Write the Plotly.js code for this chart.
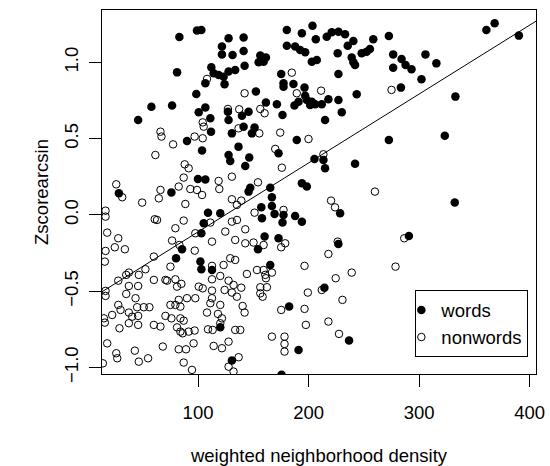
<!DOCTYPE html>
<html><head><meta charset="utf-8">
<script src="https://cdn.plot.ly/plotly-3.0.1.min.js"></script>
<style>html,body{margin:0;padding:0;background:#fff}</style>
</head><body>
<div id="chart" style="width:550px;height:466px"></div>
<script>
// words (filled points)
const wordsX = [83.1,99.0,103.0,127.6,121.6,121.6,131.2,81.0,112.0,114.1,118.6,123.1,127.6,133.6,106.6,124.0,98.4,57.8,76.5,45.8,106.6,100.6,111.1,111.7,127.0,127.6,130.6,90.0,103.6,136.6,127.6,129.1,99.9,106.6,75.9,28.4,
141.2,141.2,142.1,156.3,161.4,154.8,159.3,180.3,193.9,203.5,206.5,180.3,187.8,192.4,196.9,216.4,220.9,227.0,233.0,240.5,235.4,258.5,248.0,252.5,255.5,226.3,239.0,240.5,242.0,202.9,207.4,227.0,175.2,177.3,177.3,186.3,196.3,196.9,198.4,202.9,201.4,205.9,211.9,187.2,190.9,217.9,227.0,243.5,230.0,214.9,152.3,161.4,171.3,145.7,139.7,176.4,141.2,151.1,148.7,189.3,172.8,146.3,142.7,205.3,213.4,214.9,242.0,147.2,145.7,165.3,193.9,198.4,
272.6,276.5,284.1,287.7,293.1,276.5,305.7,315.6,302.1,283.5,332.8,360.8,368.3,390.2,272.6,323.2,
109.0,120.1,105.1,103.0,85.5,80.1,102.1,103.0,112.6,120.1,130.6,
166.8,157.2,166.8,169.2,157.8,177.3,176.4,187.8,193.9,228.5,160.2,154.2,172.8,226.9,165.3,214.3,182.4,190.9,236.6,175.5,
332.2,290.7];
const wordsY = [1.167,1.209,1.213,1.158,1.104,1.053,1.049,0.935,0.968,0.929,0.918,0.907,0.940,0.951,0.863,0.857,0.793,0.710,0.717,0.623,0.704,0.673,0.634,0.546,0.677,0.623,0.535,0.485,0.422,0.448,0.393,0.354,0.236,0.232,0.148,0.142,
1.163,1.075,0.979,1.045,1.032,1.001,1.005,1.213,1.191,1.241,1.152,1.110,1.104,1.082,1.067,1.169,1.198,1.202,1.185,1.141,1.110,1.152,1.060,1.071,1.088,1.060,1.032,1.001,0.984,1.005,1.016,0.925,0.925,0.863,0.841,0.859,0.835,0.782,0.754,0.743,0.721,0.726,0.726,0.717,0.743,0.758,0.754,0.791,0.673,0.623,0.809,0.737,0.726,0.677,0.651,0.656,0.579,0.573,0.535,0.492,0.404,0.376,0.321,0.367,0.361,0.306,0.336,0.179,0.153,0.179,0.208,0.186,
1.174,1.053,1.023,0.984,0.955,0.966,1.053,0.994,0.890,0.835,0.776,1.213,1.257,1.176,0.492,0.520,
0.015,0.011,-0.055,-0.120,-0.225,-0.284,-0.306,-0.356,-0.361,-0.737,-0.955,
0.116,0.050,0.059,0.007,-0.022,0.000,-0.050,-0.007,-0.044,0.011,-0.142,-0.225,-0.153,-0.190,-0.328,-0.477,-0.601,-0.885,-0.824,-1.048,
0.081,-0.138];

// nonwords (open points)
const nonwordsX = [108.1,127.0,137.2,104.2,105.1,66.0,66.9,96.9,104.2,77.4,61.4,87.9,91.5,87.0,130.6,26.0,118.6,119.2,66.0,82.5,93.0,99.0,136.6,
184.8,142.1,189.3,211.3,156.3,160.2,155.4,174.3,199.9,169.8,213.4,175.8,154.2,260.0,
275.0,
31.4,49.4,64.5,88.5,103.6,130.6,135.1,16.3,16.3,60.8,62.9,87.0,79.5,111.1,130.6,124.6,97.5,17.8,27.8,24.7,33.8,76.5,112.6,133.6,83.1,97.0,16.3,60.0,112.6,75.0,15.7,52.4,37.4,35.0,46.4,123.1,129.1,133.6,27.8,60.0,70.5,72.0,79.5,81.0,84.9,37.4,45.8,16.3,16.3,35.0,100.6,104.2,97.5,112.6,120.1,127.6,132.1,124.0,112.6,90.0,82.5,79.5,130.6,135.1,112.6,111.1,120.1,43.4,27.8,29.9,44.9,50.9,56.0,45.8,37.4,40.4,37.4,22.3,14.8,15.7,75.0,84.0,70.5,75.9,84.0,87.0,108.1,118.0,121.6,120.1,60.0,66.0,45.8,28.9,81.0,84.0,86.1,91.5,96.9,109.0,113.2,127.6,133.6,114.1,121.6,96.0,89.1,82.5,68.1,17.8,26.0,26.9,42.8,54.8,46.4,87.0,13.9,94.5,127.6,132.1,
139.1,151.1,177.3,135.2,142.7,220.3,223.9,142.7,150.2,159.3,178.8,175.2,226.3,217.9,159.3,160.8,161.4,166.8,153.3,144.2,196.3,239.0,224.5,139.1,156.3,162.3,156.3,158.4,211.9,199.3,230.6,140.3,142.1,175.2,196.3,197.5,217.9,138.2,166.8,178.2,178.2,178.2,227.5,136.7,
286.5,278.6];
const nonwordsY = [0.892,0.695,0.693,0.607,0.579,0.546,0.514,0.514,0.503,0.463,0.393,0.332,0.306,0.245,0.251,0.201,0.223,0.170,0.164,0.186,0.170,0.164,0.568,
0.933,0.798,0.798,0.815,0.695,0.667,0.535,0.540,0.498,0.433,0.398,0.310,0.214,0.153,
0.820,
0.116,0.081,0.109,0.072,0.131,0.103,0.066,0.028,-0.011,-0.028,-0.033,-0.037,-0.087,-0.050,-0.044,-0.109,-0.120,-0.116,-0.153,-0.212,-0.225,-0.168,-0.175,-0.164,-0.197,-0.234,-0.236,-0.273,-0.334,-0.339,-0.306,-0.356,-0.378,-0.393,-0.393,-0.328,-0.284,-0.295,-0.431,-0.426,-0.426,-0.431,-0.422,-0.470,-0.452,-0.466,-0.466,-0.498,-0.531,-0.518,-0.470,-0.481,-0.546,-0.422,-0.400,-0.431,-0.459,-0.492,-0.496,-0.546,-0.557,-0.590,-0.509,-0.536,-0.546,-0.579,-0.590,-0.546,-0.590,-0.623,-0.605,-0.605,-0.605,-0.662,-0.640,-0.667,-0.710,-0.656,-0.678,-0.706,-0.590,-0.601,-0.662,-0.678,-0.678,-0.693,-0.640,-0.649,-0.678,-0.710,-0.721,-0.732,-0.721,-0.743,-0.737,-0.765,-0.776,-0.765,-0.758,-0.750,-0.754,-0.831,-0.754,-0.859,-0.874,-0.842,-0.881,-0.881,-0.863,-0.842,-0.907,-0.940,-0.890,-0.940,-0.962,-0.968,-0.973,-1.016,-0.995,-1.027,
0.094,0.015,0.033,-0.033,-0.094,0.094,0.050,-0.186,-0.181,-0.197,-0.186,-0.212,-0.175,-0.256,-0.361,-0.393,-0.415,-0.378,-0.361,-0.387,-0.334,-0.378,-0.415,-0.477,-0.474,-0.474,-0.514,-0.536,-0.492,-0.509,-0.557,-0.597,-0.640,-0.623,-0.616,-0.721,-0.699,-0.754,-0.798,-0.798,-0.846,-0.896,-0.780,-0.933,
-0.153,-0.339];

// fitted regression line (abline)
const lineIntercept = -0.563;
const lineSlope = 0.00452;

const xTicks = [100, 200, 300, 400];
const yTicks = [-1.0, -0.5, 0.0, 0.5, 1.0];
const xRange = [13.1, 405.7];
const yRange = [-1.043, 1.344];

const FONT = 'Liberation Sans, Arial, Helvetica, sans-serif';
const FS = 18.5;

const lineX = xRange.slice();
const lineY = lineX.map(v => lineIntercept + lineSlope * v);

const traces = [
  {x: lineX, y: lineY, type: 'scatter', mode: 'lines', line: {color: '#000', width: 1}, showlegend: false, hoverinfo: 'skip'},
  {x: nonwordsX, y: nonwordsY, type: 'scatter', mode: 'markers', name: 'nonwords', legendrank: 2,
   marker: {symbol: 'circle-open', size: 7.5, color: '#000', line: {color: '#000', width: 1}}},
  {x: wordsX, y: wordsY, type: 'scatter', mode: 'markers', name: 'words', legendrank: 1,
   marker: {symbol: 'circle', size: 8.5, color: '#000', line: {width: 0}}}
];

const layout = {
  width: 550, height: 466,
  margin: {l: 102, r: 14, t: 10, b: 92, pad: 0},
  paper_bgcolor: '#fff', plot_bgcolor: '#fff',
  font: {family: FONT, size: FS, color: '#000'},
  showlegend: true,
  legend: {x: 0.722, y: 0.2295, xanchor: 'left', yanchor: 'top', bgcolor: '#fff', bordercolor: '#000', borderwidth: 1,
           font: {family: FONT, size: FS, color: '#000'}, indentation: -15, itemwidth: 30, tracegroupgap: 0},
  xaxis: {range: xRange, tickvals: xTicks, ticktext: xTicks.map(String), showgrid: false, zeroline: false,
          showline: true, mirror: true, linecolor: '#000', linewidth: 1,
          ticks: 'outside', ticklen: 12, tickwidth: 1, tickcolor: '#000', ticklabelstandoff: 10,
          tickfont: {family: FONT, size: FS, color: '#000'},
          title: {text: 'weighted neighborhood density', font: {family: FONT, size: FS, color: '#000'}, standoff: 32}},
  yaxis: {range: yRange, tickvals: yTicks, tickformat: '.1f', showgrid: false, zeroline: false,
          showline: true, mirror: true, linecolor: '#000', linewidth: 1,
          ticks: 'outside', ticklen: 12, tickwidth: 1, tickcolor: '#000', tickangle: -90, ticklabelstandoff: 4,
          tickfont: {family: FONT, size: FS, color: '#000'},
          title: {text: 'Zscorearcsin', font: {family: FONT, size: FS, color: '#000'}, standoff: 7}}
};

Plotly.newPlot('chart', traces, layout, {displayModeBar: false, staticPlot: true});
</script>
</body></html>
